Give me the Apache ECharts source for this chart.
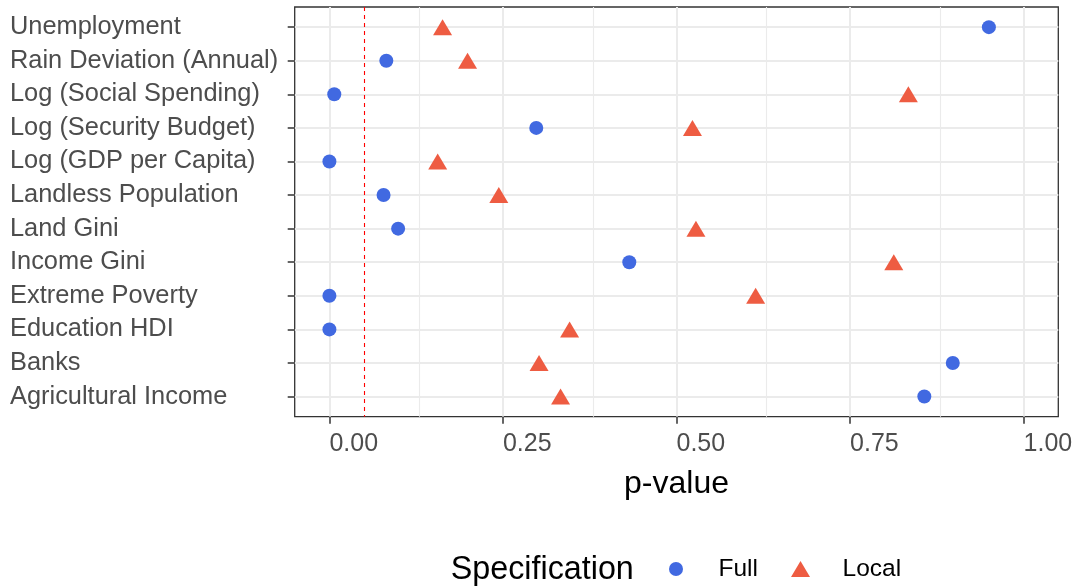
<!DOCTYPE html>
<html>
<head>
<meta charset="utf-8">
<script src="https://cdn.jsdelivr.net/npm/echarts@6/dist/echarts.min.js"></script>
<style>
  html, body { margin: 0; padding: 0; background: #fff; }
  #chart { width: 1079px; height: 588px; }
</style>
</head>
<body>
<div id="chart"></div>
<script>
// rows top -> bottom
const categories = ['Unemployment', 'Rain Deviation (Annual)', 'Log (Social Spending)', 'Log (Security Budget)',
  'Log (GDP per Capita)', 'Landless Population', 'Land Gini', 'Income Gini', 'Extreme Poverty',
  'Education HDI', 'Banks', 'Agricultural Income'];
const fullValues  = [0.950, 0.082, 0.007, 0.298, 0.000, 0.078, 0.099, 0.432, 0.000, 0.000, 0.898, 0.857];
const localValues = [0.163, 0.199, 0.834, 0.523, 0.156, 0.244, 0.528, 0.813, 0.614, 0.346, 0.302, 0.333];
const xTicks = [0, 0.25, 0.5, 0.75, 1];
const xMinor = [0.125, 0.375, 0.625, 0.875];
const cutoff = 0.05;

const FONT = "'Liberation Sans', Arial, sans-serif";
const rowIdx = categories.map((c, i) => i);
const triPath = 'path://M9.5,0L19,16L0,16Z';

let chart = echarts.init(document.getElementById('chart'), null, { renderer: 'canvas' });
chart.setOption({
  backgroundColor: '#fff',
  animation: false,
  textStyle: { fontFamily: FONT },
  grid: {
    left: 294.7, right: 20.7, top: 7, bottom: 171.3,
    show: true, borderColor: '#333', borderWidth: 1.3, backgroundColor: '#fff'
  },
  xAxis: {
    type: 'value', min: -0.05, max: 1.05,
    name: 'p-value', nameLocation: 'middle', nameGap: 51,
    nameTextStyle: { color: '#000', fontSize: 32, fontFamily: FONT },
    axisLine: { show: false, onZero: false },
    axisTick: { show: true, customValues: xTicks, length: 7, lineStyle: { color: '#333', width: 1.5 } },
    axisLabel: { customValues: xTicks, color: '#4d4d4d', fontSize: 25, margin: 14.5, align: 'left',
      fontFamily: FONT, formatter: v => v.toFixed(2) },
    splitLine: { show: true, lineStyle: { color: '#ebebeb', width: 2 } }
  },
  yAxis: {
    type: 'value', min: -0.6, max: 11.6, inverse: true,
    axisLine: { show: false, onZero: false },
    axisTick: { show: true, customValues: rowIdx, length: 7, lineStyle: { color: '#333', width: 1.5 } },
    axisLabel: { customValues: rowIdx, color: '#4d4d4d', fontSize: 25.4, align: 'left', margin: 284.7,
      fontFamily: FONT, formatter: v => categories[Math.round(v)] },
    splitLine: { show: true, lineStyle: { color: '#ebebeb', width: 2 } }
  },
  legend: [
    {
      data: [{ name: 'Full', icon: 'circle' }],
      left: 664, top: 551.5, itemWidth: 75, itemHeight: 14,
      textStyle: { color: '#000', fontSize: 24.5, fontFamily: FONT }
    },
    {
      data: [{ name: 'Local', icon: triPath }],
      left: 786, top: 551.5, itemWidth: 74, itemHeight: 16,
      textStyle: { color: '#000', fontSize: 24.5, fontFamily: FONT }
    }
  ],
  graphic: [{
    type: 'text', left: 450.7, top: 554,
    style: { text: 'Specification', fill: '#000', fontSize: 32.3, fontFamily: FONT }
  }],
  series: [
    {
      // minor grid lines + cut-off line
      type: 'scatter', data: [], z: 1, silent: true,
      markLine: {
        silent: true, symbol: 'none', label: { show: false }, animation: false,
        data: xMinor.map(v => ({ xAxis: v, lineStyle: { color: '#ebebeb', width: 1.1, type: 'solid' } }))
          .concat([{ xAxis: cutoff, lineStyle: { color: '#ff0000', width: 1.1, type: [4, 4] } }])
      }
    },
    {
      name: 'Full', type: 'scatter', z: 3,
      symbol: 'circle', symbolSize: 14,
      itemStyle: { color: '#4169e1', opacity: 1 },
      data: fullValues.map((v, i) => [v, i])
    },
    {
      name: 'Local', type: 'scatter', z: 3,
      symbol: 'triangle', symbolSize: [19, 16],
      itemStyle: { color: '#ee5c42', opacity: 1 },
      data: localValues.map((v, i) => [v, i])
    }
  ]
});
</script>
</body>
</html>
